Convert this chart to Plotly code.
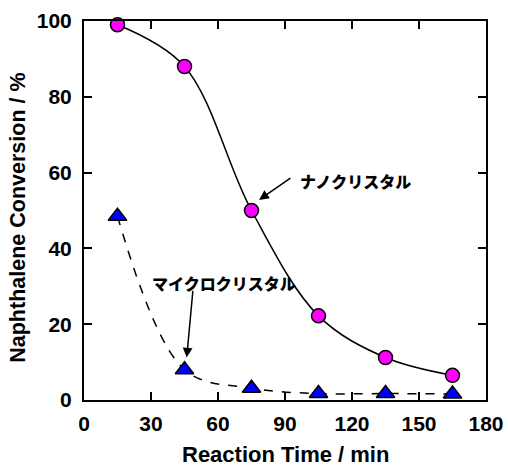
import plotly.graph_objects as go

time_min = [15, 45, 75, 105, 135, 165]
nano_conv = [99, 88, 50, 22.2, 11.2, 6.5]
micro_conv = [48.5, 8, 3.1, 1.7, 1.7, 1.6]

x_ticks = [0, 30, 60, 90, 120, 150, 180]
y_ticks = [0, 20, 40, 60, 80, 100]

x_title = "Reaction Time / min"
y_title = "Naphthalene Conversion / %"

font_main = "Liberation Sans, Arial, sans-serif"
font_jp = "Noto Sans CJK JP, sans-serif"

fig = go.Figure()

fig.add_trace(go.Scatter(
    x=time_min, y=micro_conv, mode="lines+markers",
    line=dict(color="black", width=1.5, dash="dash", shape="spline", smoothing=1.0),
    marker=dict(symbol="triangle-up", size=16, color="#0000FF",
                line=dict(color="black", width=1.5)),
    cliponaxis=False, showlegend=False))

fig.add_trace(go.Scatter(
    x=time_min, y=nano_conv, mode="lines+markers",
    line=dict(color="black", width=1.5, shape="spline", smoothing=1.0),
    marker=dict(symbol="circle", size=14, color="#FF00FF",
                line=dict(color="black", width=1.5)),
    cliponaxis=False, showlegend=False))

# annotations
fig.add_annotation(x=78.4, y=52.8, ax=93.1, ay=58.8, axref="x", ayref="y",
                   xref="x", yref="y", text="", showarrow=True,
                   arrowhead=2, arrowsize=1.3, arrowwidth=1.5, arrowcolor="black")
fig.add_annotation(x=95.8, y=57.8, xref="x", yref="y", text="ナノクリスタル",
                   showarrow=False, xanchor="left", yanchor="middle",
                   font=dict(family=font_jp, size=16, color="black", weight=900))
fig.add_annotation(x=46.0, y=11.2, ax=48.8, ay=29.2, axref="x", ayref="y",
                   xref="x", yref="y", text="", showarrow=True,
                   arrowhead=2, arrowsize=1.3, arrowwidth=1.5, arrowcolor="black")
fig.add_annotation(x=29.6, y=30.9, xref="x", yref="y", text="マイクロクリスタル",
                   showarrow=False, xanchor="left", yanchor="middle",
                   font=dict(family=font_jp, size=16, color="black", weight=900))

# axis titles
fig.add_annotation(x=0.5, y=-0.1794, xref="paper", yref="paper", text=x_title,
                   showarrow=False, xanchor="center", yanchor="bottom", borderpad=0,
                   font=dict(family=font_main, size=22, color="black", weight="bold"))
fig.add_annotation(x=-0.165, y=0.48, xref="paper", yref="paper", text=y_title,
                   showarrow=False, xanchor="center", yanchor="middle", textangle=-90,
                   font=dict(family=font_main, size=21.5, color="black", weight="bold"))

axis_common = dict(
    showgrid=False, zeroline=False, showline=True, linecolor="black", linewidth=2,
    mirror="ticks", ticks="inside", ticklen=8, tickwidth=1.5, tickcolor="black",
    tickfont=dict(family=font_main, size=21, color="black", weight="bold"),
    automargin=False,
)

fig.update_xaxes(range=[0, 180], tickvals=x_ticks, ticklabelstandoff=4, **axis_common)
fig.update_yaxes(range=[0, 100], tickvals=y_ticks, ticklabelstandoff=6, **axis_common)

fig.update_layout(
    width=508, height=468,
    margin=dict(l=84, r=22, t=21, b=68),
    plot_bgcolor="white", paper_bgcolor="white",
)

fig.write_html("out.html")
